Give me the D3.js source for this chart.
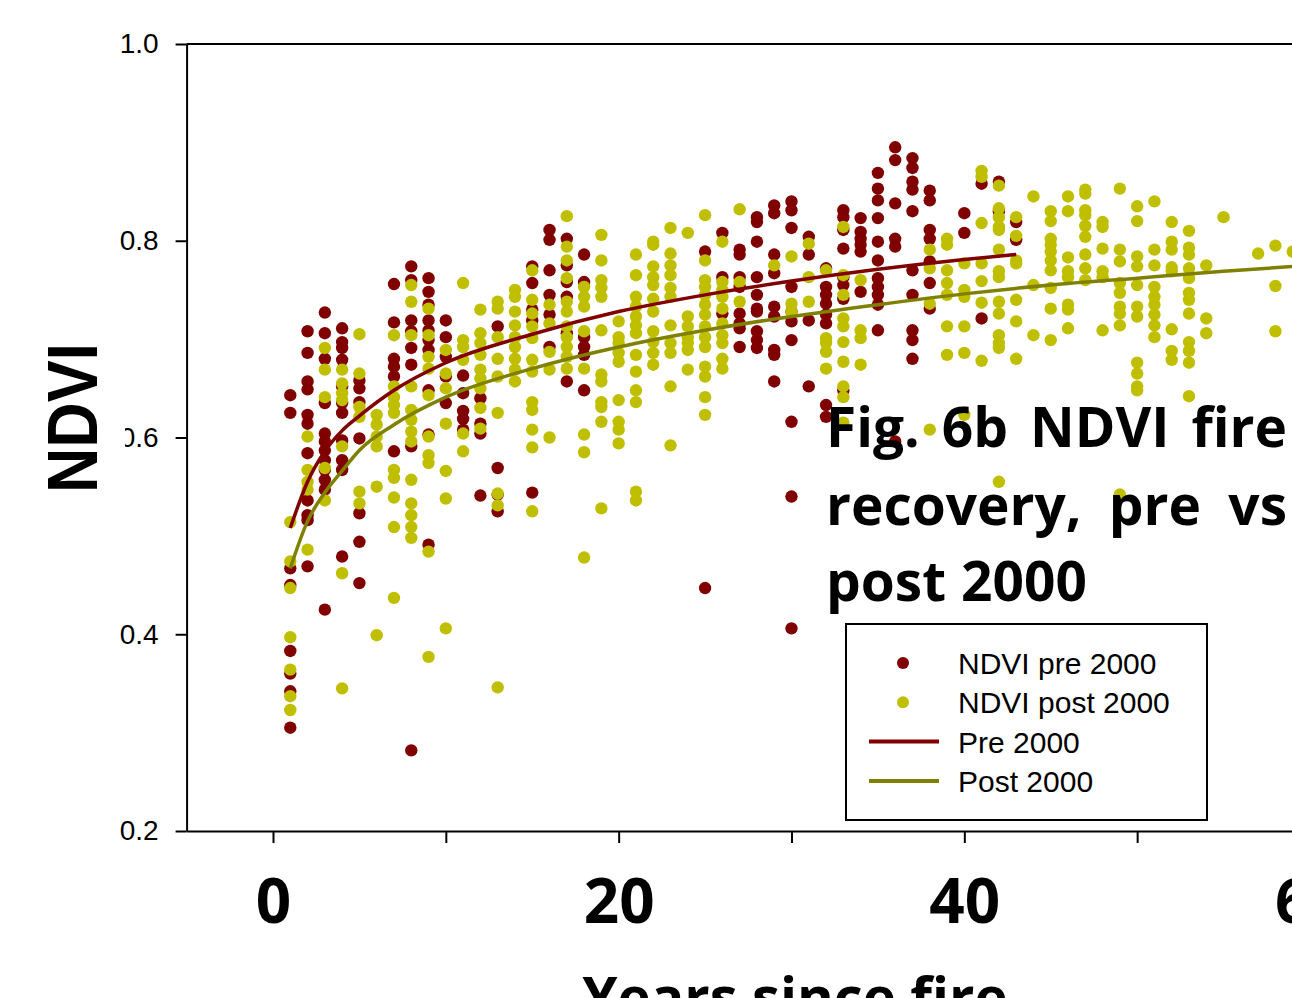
<!DOCTYPE html>
<html>
<head>
<meta charset="utf-8">
<script src="https://cdn.jsdelivr.net/npm/d3@7/dist/d3.min.js"></script>
<style>
  html, body { margin: 0; padding: 0; background: #fff; overflow: hidden; }
  svg { display: block; }
</style>
</head>
<body>
<div id="chart"></div>
<script>
// NDVI values per year since fire
const preYears = [1, 2, 3, 4, 5, 7, 8, 9, 10, 11, 12, 13, 15, 16, 17, 18, 25, 26, 27, 28, 29, 30,
  31, 32, 33, 34, 35, 36, 37, 38, 40, 41, 42, 43];
const preValues = [
  [0.643, 0.625, 0.467, 0.450, 0.383, 0.360, 0.342, 0.305],
  [0.708, 0.686, 0.657, 0.649, 0.623, 0.614, 0.584, 0.536, 0.521, 0.516, 0.469],
  [0.727, 0.706, 0.680, 0.635, 0.604, 0.596, 0.587, 0.577, 0.567, 0.557, 0.547, 0.425],
  [0.711, 0.697, 0.691, 0.679, 0.652, 0.635, 0.625, 0.597, 0.577, 0.567, 0.479],
  [0.658, 0.650, 0.636, 0.599, 0.523, 0.494, 0.452],
  [0.756, 0.717, 0.680, 0.672, 0.662, 0.586],
  [0.774, 0.760, 0.719, 0.708, 0.691, 0.674, 0.591, 0.282],
  [0.762, 0.748, 0.735, 0.719, 0.709, 0.699, 0.689, 0.648, 0.603, 0.491],
  [0.719, 0.702, 0.682, 0.662, 0.635],
  [0.663, 0.645, 0.627, 0.619, 0.608],
  [0.640, 0.614, 0.604, 0.541],
  [0.713, 0.569, 0.542, 0.525],
  [0.774, 0.757, 0.730, 0.719, 0.544],
  [0.811, 0.801, 0.770, 0.745, 0.725, 0.692],
  [0.802, 0.775, 0.758, 0.743, 0.706, 0.657],
  [0.786, 0.758, 0.702, 0.692, 0.684, 0.648],
  [0.789, 0.447],
  [0.808, 0.763, 0.726],
  [0.791, 0.786, 0.763, 0.753, 0.726, 0.716, 0.711, 0.692],
  [0.824, 0.819, 0.799, 0.763, 0.745, 0.731, 0.728, 0.708, 0.699, 0.691],
  [0.836, 0.828, 0.786, 0.767, 0.733, 0.723, 0.689, 0.684, 0.657],
  [0.840, 0.831, 0.813, 0.753, 0.728, 0.718, 0.699, 0.616, 0.540, 0.406],
  [0.804, 0.786, 0.719, 0.652],
  [0.772, 0.753, 0.745, 0.736, 0.725, 0.716, 0.633, 0.621],
  [0.831, 0.824, 0.811, 0.792, 0.763, 0.755, 0.741, 0.648],
  [0.823, 0.809, 0.802, 0.796, 0.789, 0.748],
  [0.869, 0.853, 0.841, 0.823, 0.799, 0.780, 0.762, 0.753, 0.745, 0.735, 0.709],
  [0.895, 0.882, 0.838, 0.802, 0.794, 0.596],
  [0.884, 0.874, 0.860, 0.852, 0.830, 0.770, 0.745, 0.709, 0.699, 0.680],
  [0.851, 0.841, 0.811, 0.802, 0.779, 0.757, 0.731],
  [0.828, 0.808],
  [0.858, 0.721],
  [0.860, 0.830],
  [0.819, 0.801]
];

const postYears = [1, 2, 3, 4, 5, 6, 7, 8, 9, 10, 11, 12, 13, 14, 15, 16, 17, 18, 19, 20, 21, 22, 23, 24,
  25, 26, 27, 29, 30, 31, 32, 33, 34, 38, 39, 40, 41, 42, 43, 44, 45, 46, 47, 48, 49, 50, 51, 52, 53,
  54, 55, 57, 58, 59];
const postValues = [
  [0.514, 0.474, 0.447, 0.397, 0.364, 0.337, 0.323],
  [0.601, 0.567, 0.555, 0.547, 0.486],
  [0.691, 0.669, 0.641, 0.569, 0.536],
  [0.669, 0.655, 0.645, 0.638, 0.591, 0.462, 0.345],
  [0.705, 0.665, 0.631, 0.621, 0.545, 0.533],
  [0.623, 0.613, 0.601, 0.591, 0.550, 0.399],
  [0.704, 0.652, 0.641, 0.633, 0.625, 0.567, 0.559, 0.539, 0.509, 0.437],
  [0.755, 0.738, 0.704, 0.652, 0.628, 0.618, 0.606, 0.596, 0.557, 0.533, 0.521, 0.509, 0.498],
  [0.731, 0.704, 0.682, 0.670, 0.643, 0.601, 0.582, 0.574, 0.484, 0.377],
  [0.689, 0.665, 0.650, 0.614, 0.566, 0.538, 0.406],
  [0.757, 0.699, 0.692, 0.679, 0.604, 0.586],
  [0.730, 0.706, 0.696, 0.684, 0.669, 0.660, 0.650, 0.630, 0.609],
  [0.738, 0.731, 0.702, 0.680, 0.662, 0.625, 0.543, 0.531, 0.346],
  [0.750, 0.743, 0.728, 0.714, 0.702, 0.692, 0.680, 0.669, 0.657],
  [0.770, 0.740, 0.726, 0.713, 0.701, 0.679, 0.667, 0.636, 0.628, 0.608, 0.590, 0.525],
  [0.735, 0.716, 0.687, 0.669, 0.600],
  [0.825, 0.794, 0.780, 0.762, 0.738, 0.728, 0.713, 0.702, 0.692, 0.682, 0.670],
  [0.753, 0.743, 0.733, 0.708, 0.670, 0.603, 0.585, 0.478],
  [0.806, 0.780, 0.760, 0.752, 0.743, 0.709, 0.664, 0.657, 0.636, 0.631, 0.616, 0.528],
  [0.718, 0.702, 0.696, 0.686, 0.677, 0.638, 0.616, 0.608, 0.594],
  [0.786, 0.765, 0.743, 0.733, 0.723, 0.714, 0.706, 0.684, 0.667, 0.648, 0.636, 0.545, 0.536],
  [0.799, 0.796, 0.774, 0.763, 0.755, 0.741, 0.728, 0.708, 0.697, 0.686, 0.674],
  [0.813, 0.787, 0.775, 0.765, 0.752, 0.743, 0.714, 0.696, 0.686, 0.652, 0.592],
  [0.808, 0.723, 0.713, 0.702, 0.696, 0.689, 0.669],
  [0.826, 0.780, 0.760, 0.753, 0.745, 0.735, 0.725, 0.713, 0.702, 0.692, 0.672, 0.662, 0.641, 0.623],
  [0.799, 0.758, 0.750, 0.743, 0.731, 0.716, 0.704, 0.696, 0.680, 0.670],
  [0.832, 0.758, 0.738],
  [0.775],
  [0.784, 0.736, 0.728],
  [0.797, 0.763, 0.738],
  [0.770, 0.701, 0.696, 0.687, 0.670],
  [0.814, 0.765, 0.745, 0.721, 0.713, 0.697, 0.677, 0.652, 0.641, 0.615],
  [0.760, 0.709, 0.701, 0.674],
  [0.791, 0.772, 0.736, 0.608],
  [0.802, 0.796, 0.770, 0.757, 0.745, 0.713, 0.684],
  [0.777, 0.750, 0.743, 0.713, 0.686, 0.623],
  [0.871, 0.865, 0.818, 0.777, 0.759, 0.737, 0.678],
  [0.856, 0.833, 0.824, 0.814, 0.811, 0.791, 0.769, 0.763, 0.738, 0.726, 0.704, 0.696, 0.691, 0.555],
  [0.824, 0.805, 0.780, 0.777, 0.740, 0.718, 0.680],
  [0.845, 0.755, 0.704],
  [0.830, 0.820, 0.802, 0.796, 0.789, 0.780, 0.770, 0.752, 0.731, 0.699],
  [0.845, 0.830, 0.783, 0.769, 0.763, 0.735, 0.730, 0.711],
  [0.852, 0.848, 0.831, 0.826, 0.815, 0.804, 0.786, 0.772, 0.760],
  [0.819, 0.814, 0.792, 0.769, 0.763, 0.709],
  [0.853, 0.791, 0.779, 0.757, 0.747, 0.733, 0.726, 0.714, 0.542],
  [0.835, 0.820, 0.784, 0.774, 0.755, 0.733, 0.723, 0.676, 0.665, 0.652, 0.648],
  [0.840, 0.791, 0.775, 0.753, 0.743, 0.735, 0.725, 0.714, 0.702],
  [0.819, 0.799, 0.791, 0.773, 0.769, 0.710, 0.688, 0.679],
  [0.810, 0.793, 0.786, 0.772, 0.762, 0.747, 0.740, 0.726, 0.697, 0.688, 0.676, 0.642],
  [0.775, 0.721, 0.706],
  [0.824],
  [0.787],
  [0.795, 0.754, 0.708],
  [0.789]
];

// fitted recovery curves, read at a few years
const preFitYears = [1, 2, 3, 4, 5, 7, 10, 15, 20, 25, 30, 35, 40, 43];
const preFitNdvi = [0.508, 0.555, 0.586, 0.607, 0.622, 0.648, 0.676, 0.705, 0.728, 0.745, 0.759, 0.771, 0.781, 0.786];
const postFitYears = [1, 2, 3, 4, 5, 7, 10, 15, 20, 25, 30, 35, 40, 45, 50, 55, 60];
const postFitNdvi = [0.467, 0.515, 0.544, 0.566, 0.587, 0.613, 0.641, 0.670, 0.692, 0.709, 0.723, 0.735, 0.746, 0.755, 0.762, 0.769, 0.775];

const yTicks = [0.2, 0.4, 0.6, 0.8, 1.0];
const xTicks = [0, 10, 20, 30, 40, 50, 60];
const titleLines = [["Fig.", "6b", "NDVI", "fire"], ["recovery,", "pre", "vs"], ["post", "2000"]];
const legendItems = [
  { label: "NDVI pre 2000", type: "dot", color: "#800000" },
  { label: "NDVI post 2000", type: "dot", color: "#bfbf00" },
  { label: "Pre 2000", type: "line", color: "#800000" },
  { label: "Post 2000", type: "line", color: "#808000" }
];

const W = 1292, H = 998;
const PRE = "#800000", POST = "#bfbf00", PRE_LINE = "#800000", POST_LINE = "#808000";
const BOLD = "'Open Sans', sans-serif";
const ARIAL = "'Liberation Sans', Arial, sans-serif";

const svg = d3.select("#chart").append("svg").attr("width", W).attr("height", H);

const unit = 17.283;
const x = d3.scaleLinear().domain([-5, 65]).range([273 - 5 * unit, 273 + 65 * unit]);
const y = d3.scaleLinear().domain([0.2, 1.0]).range([831, 44]);

const flat = (years, vals) => years.flatMap((yr, i) => vals[i].map(v => ({ year: yr, ndvi: v })));
const preData = flat(preYears, preValues);
const postData = flat(postYears, postValues);

// top frame line
svg.append("line")
  .attr("x1", x(-5)).attr("x2", x(65)).attr("y1", y(1.0)).attr("y2", y(1.0))
  .attr("stroke", "#000").attr("stroke-width", 2);

// dots: pre first, post on top
svg.append("g").selectAll("circle").data(preData).join("circle")
  .attr("cx", d => x(d.year)).attr("cy", d => y(d.ndvi)).attr("r", 6.2).attr("fill", PRE);
svg.append("g").selectAll("circle").data(postData).join("circle")
  .attr("cx", d => x(d.year)).attr("cy", d => y(d.ndvi)).attr("r", 6.2).attr("fill", POST);

// fitted curves
const line = d3.line().x(d => x(d[0])).y(d => y(d[1])).curve(d3.curveMonotoneX);
svg.append("path").attr("d", line(preFitYears.map((v, i) => [v, preFitNdvi[i]])))
  .attr("fill", "none").attr("stroke", PRE_LINE).attr("stroke-width", 3.5);
svg.append("path").attr("d", line(postFitYears.map((v, i) => [v, postFitNdvi[i]])))
  .attr("fill", "none").attr("stroke", POST_LINE).attr("stroke-width", 3.5);

// axes
const yAxis = svg.append("g").attr("transform", `translate(${x(-5)},0)`)
  .call(d3.axisLeft(y).tickValues(yTicks).tickSize(11).tickSizeOuter(0).tickPadding(17).tickFormat(d3.format(".1f")));
yAxis.selectAll("path, line").attr("stroke", "#000").attr("stroke-width", 2);
yAxis.selectAll("text").attr("font-family", ARIAL).attr("font-size", 28).attr("fill", "#000");

const xAxis = svg.append("g").attr("transform", `translate(0,${y(0.2)})`)
  .call(d3.axisBottom(x).tickValues(xTicks).tickSize(12).tickSizeOuter(0).tickPadding(36)
    .tickFormat(d => d % 20 === 0 ? d : ""));
xAxis.selectAll("path, line").attr("stroke", "#000").attr("stroke-width", 2);
xAxis.selectAll("text").attr("font-family", BOLD).attr("font-weight", 700).attr("font-size", 62).attr("fill", "#000");

// y axis title (its box hides part of the 0.6 label)
svg.append("rect").attr("x", 40).attr("y", 335).attr("width", 85).attr("height", 166).attr("fill", "#fff");
svg.append("text")
  .attr("transform", "translate(97,418) rotate(-90)")
  .attr("text-anchor", "middle")
  .attr("font-family", ARIAL).attr("font-weight", 700).attr("font-size", 70)
  .attr("textLength", 150).attr("lengthAdjust", "spacingAndGlyphs")
  .text("NDVI");

// x axis title
svg.append("text")
  .attr("x", 795).attr("y", 1017).attr("text-anchor", "middle")
  .attr("font-family", BOLD).attr("font-weight", 700).attr("font-size", 56)
  .text("Years since fire");

// legend
const lg = svg.append("g");
lg.append("rect").attr("x", 846).attr("y", 624).attr("width", 361).attr("height", 196)
  .attr("fill", "#fff").attr("stroke", "#000").attr("stroke-width", 2);
legendItems.forEach((it, i) => {
  const cy = 663 + i * 39.3;
  if (it.type === "dot") {
    lg.append("circle").attr("cx", 903).attr("cy", cy).attr("r", 6).attr("fill", it.color);
  } else {
    lg.append("line").attr("x1", 869).attr("x2", 939).attr("y1", cy).attr("y2", cy)
      .attr("stroke", it.color).attr("stroke-width", 4);
  }
  lg.append("text").attr("x", 958).attr("y", cy + 11)
    .attr("font-family", ARIAL).attr("font-size", 30).attr("fill", "#000").text(it.label);
});

// title, justified in a text box over the plot
const tg = svg.append("g");
const tx0 = 826, tx1 = 1287, baselines = [447, 525, 601];
titleLines.forEach((words, li) => {
  const nodes = words.map(w => tg.append("text")
    .attr("y", baselines[li])
    .attr("font-family", BOLD).attr("font-weight", 700).attr("font-size", 55)
    .attr("fill", "#000").text(w));
  const widths = nodes.map(n => n.node().getComputedTextLength());
  const total = d3.sum(widths);
  const gap = li < titleLines.length - 1 ? (tx1 - tx0 - total) / (words.length - 1) : 15;
  let cx = tx0;
  nodes.forEach((n, i) => { n.attr("x", cx); cx += widths[i] + gap; });
});
</script>
</body>
</html>
